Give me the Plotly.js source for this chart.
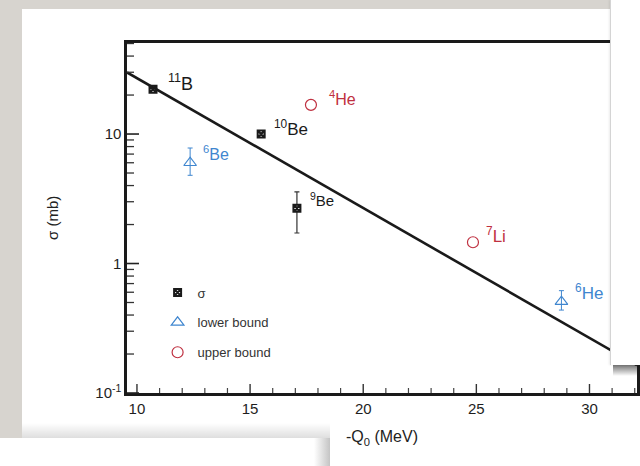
<!DOCTYPE html>
<html>
<head>
<meta charset="utf-8">
<script src="https://cdn.plot.ly/plotly-3.0.1.min.js"></script>
<style>
  html, body { margin: 0; padding: 0; background: #d7d4cf; }
  #stage { position: relative; width: 640px; height: 466px; overflow: hidden; background: #d7d4cf; }
  /* sheet of paper the chart is printed on */
  #sheet { position: absolute; left: 22px; top: 9px; width: 618px; height: 457px; background: #fff; }
  #chart { position: absolute; left: 0; top: 0; width: 640px; height: 466px; }
  /* soft shadow cast by the lower sheet */
  #shadowBottom { position: absolute; left: 22px; top: 423px; width: 308px; height: 15px;
    background: linear-gradient(to bottom, rgba(0,0,0,0), rgba(0,0,0,0.13)); pointer-events: none; }
  /* lower-left sheet lying on top */
  #sheetBottom { position: absolute; left: 0; top: 438px; width: 330px; height: 28px;
    background: linear-gradient(to right, #fff 0, #fff 314px, #c4c4c4 330px); pointer-events: none; }
  /* right-hand sheet lying on top */
  #sheetRight { position: absolute; left: 610px; top: 0; width: 30px; height: 365px; background: #fff;
    border-left: 1px solid #d4d4d4; box-shadow: -1px 0 2px rgba(0,0,0,0.08); pointer-events: none; }
  #shadowRight { position: absolute; left: 613px; top: 365px; width: 24px; height: 11px;
    background: linear-gradient(to bottom, rgba(0,0,0,0.55), rgba(0,0,0,0)); pointer-events: none; }
</style>
</head>
<body>
<div id="stage">
  <div id="sheet"></div>
  <div id="chart"></div>
  <div id="shadowBottom"></div>
  <div id="sheetBottom"></div>
  <div id="shadowRight"></div>
  <div id="sheetRight"></div>
</div>
<script>
// Measured cross sections (mb) vs -Q0 (MeV)
const sigmaNuclei = ['<sup>11</sup>B', '<sup>10</sup>Be', '<sup>9</sup>Be'];
const sigmaQ = [10.71, 15.49, 17.07];
const sigmaVal = [22.2, 10.0, 2.67];
const sigmaErrUp = [0, 0, 0.91];
const sigmaErrDown = [0, 0, 0.95];

// Lower bounds
const lowerNuclei = ['<sup>6</sup>Be', '<sup>6</sup>He'];
const lowerQ = [12.35, 28.76];
const lowerVal = [6.0, 0.507];
const lowerErrUp = [1.8, 0.11];
const lowerErrDown = [1.2, 0.07];

// Upper bounds
const upperNuclei = ['<sup>4</sup>He', '<sup>7</sup>Li'];
const upperQ = [17.69, 24.85];
const upperVal = [16.8, 1.46];

// Exponential systematics line (end points)
const fitQ = [9.56, 32.1];
const fitSigma = [29.9, 0.164];

// Axis ticks
const xRange = [9.56, 32.1];
const yLogRange = [-1, 1.703];
const xTickVals = [10, 15, 20, 25, 30];
const xMinorVals = [11, 12, 13, 14, 16, 17, 18, 19, 21, 22, 23, 24, 26, 27, 28, 29, 31, 32];
const yTickVals = [0.1, 1, 10];
const yTickText = ['10<sup>-1</sup>', '1', '10'];
const yMinorVals = [0.2, 0.3, 0.4, 0.5, 0.6, 0.7, 0.8, 0.9, 2, 3, 4, 5, 6, 7, 8, 9, 20, 30, 40, 50];

const legendNames = ['σ', 'lower bound', 'upper bound'];
const yTitle = 'σ (mb)';
const xTitle = '-Q<sub>0</sub> (MeV)';

const BLACK = '#1a1a1a';
const BLUE = '#3f86cf';
const RED = '#bf3040';
const FONT = 'Liberation Sans, Arial, sans-serif';

const traces = [
  {
    x: fitQ, y: fitSigma, mode: 'lines', showlegend: false,
    line: { color: BLACK, width: 2.6 }, hoverinfo: 'skip'
  },
  {
    x: sigmaQ, y: sigmaVal, mode: 'markers', name: legendNames[0], legendgroup: 'a',
    marker: { symbol: 'square-x-open', size: 7, color: BLACK, line: { color: BLACK, width: 2 } },
    error_y: { type: 'data', symmetric: false, array: sigmaErrUp, arrayminus: sigmaErrDown,
               color: '#333', thickness: 1.2, width: 2.5 }
  },
  {
    x: lowerQ, y: lowerVal, mode: 'markers', name: legendNames[1], legendgroup: 'b',
    marker: { symbol: 'triangle-up-open', size: 11, color: BLUE, line: { color: BLUE, width: 1.2 } },
    error_y: { type: 'data', symmetric: false, array: lowerErrUp, arrayminus: lowerErrDown,
               color: BLUE, thickness: 1, width: 2.5 }
  },
  {
    x: upperQ, y: upperVal, mode: 'markers', name: legendNames[2], legendgroup: 'c',
    marker: { symbol: 'circle-open', size: 11, color: RED, line: { color: RED, width: 1.2 } }
  }
];

// Nucleus labels beside each point (offsets in px)
function label(text, q, s, color, size, dx, dy) {
  return {
    x: q, y: Math.log10(s), xref: 'x', yref: 'y', text: text, showarrow: false,
    xanchor: 'left', yanchor: 'middle', xshift: dx, yshift: dy,
    font: { family: FONT, size: size, color: color }
  };
}
const annotations = [
  label(sigmaNuclei[0], sigmaQ[0], sigmaVal[0], BLACK, 18, 13, 7),
  label(sigmaNuclei[1], sigmaQ[1], sigmaVal[1], BLACK, 17, 11, 6),
  label(sigmaNuclei[2], sigmaQ[2], sigmaVal[2], BLACK, 15, 11, 9),
  label(lowerNuclei[0], lowerQ[0], lowerVal[0], BLUE, 16, 11, 10),
  label(lowerNuclei[1], lowerQ[1], lowerVal[1], BLUE, 17, 12, 10),
  label(upperNuclei[0], upperQ[0], upperVal[0], RED, 16, 16, 7),
  label(upperNuclei[1], upperQ[1], upperVal[1], RED, 17, 11, 7),
  // vertical axis title, placed left of the tick labels
  { x: -0.147, y: 0.5, xref: 'paper', yref: 'paper', text: yTitle, showarrow: false,
    textangle: -90, xanchor: 'center', yanchor: 'middle',
    font: { family: FONT, size: 15, color: '#222' } }
];

// Inside tick marks along the bottom and left frame edges
function xTick(v, len, width, color) {
  return { type: 'line', layer: 'above', xref: 'x', yref: 'paper', ysizemode: 'pixel', yanchor: 0,
           x0: v, x1: v, y0: 0, y1: len, line: { color: color, width: width } };
}
function yTick(v, len, width, color) {
  const f = (Math.log10(v) - yLogRange[0]) / (yLogRange[1] - yLogRange[0]);
  return { type: 'line', layer: 'above', xref: 'paper', yref: 'paper', xsizemode: 'pixel', xanchor: 0,
           x0: 0, x1: len, y0: f, y1: f, line: { color: color, width: width } };
}
const shapes = [].concat(
  xTickVals.map(v => xTick(v, 9, 1.4, '#333')),
  xMinorVals.map(v => xTick(v, 5, 1.2, '#444')),
  yTickVals.map(v => yTick(v, 12, 1.6, '#222')),
  yMinorVals.map(v => yTick(v, 7, 1.3, '#333'))
);

const tickFont = { family: FONT, size: 15, color: '#1e1e1e' };

const layout = {
  width: 640, height: 466,
  margin: { l: 127, r: 3, t: 43, b: 73 },
  paper_bgcolor: 'rgba(0,0,0,0)',
  plot_bgcolor: 'rgba(0,0,0,0)',
  showlegend: true,
  legend: {
    x: 0.06, y: 0.33, xanchor: 'left', yanchor: 'top',
    bgcolor: 'rgba(0,0,0,0)', tracegroupgap: 10,
    font: { family: FONT, size: 13, color: '#333' }
  },
  xaxis: {
    range: xRange, tickmode: 'array', tickvals: xTickVals, ticks: '',
    showline: true, linewidth: 2.6, linecolor: BLACK, mirror: true,
    showgrid: false, zeroline: false, tickfont: tickFont,
    title: { text: xTitle, standoff: 16, font: { family: FONT, size: 16, color: '#222' } }
  },
  yaxis: {
    type: 'log', range: yLogRange, tickmode: 'array', tickvals: yTickVals, ticktext: yTickText, ticks: '',
    showline: true, linewidth: 2.6, linecolor: BLACK, mirror: true,
    showgrid: false, zeroline: false, tickfont: tickFont
  },
  shapes: shapes,
  annotations: annotations
};

Plotly.newPlot('chart', traces, layout, { staticPlot: true, displayModeBar: false });
</script>
</body>
</html>
